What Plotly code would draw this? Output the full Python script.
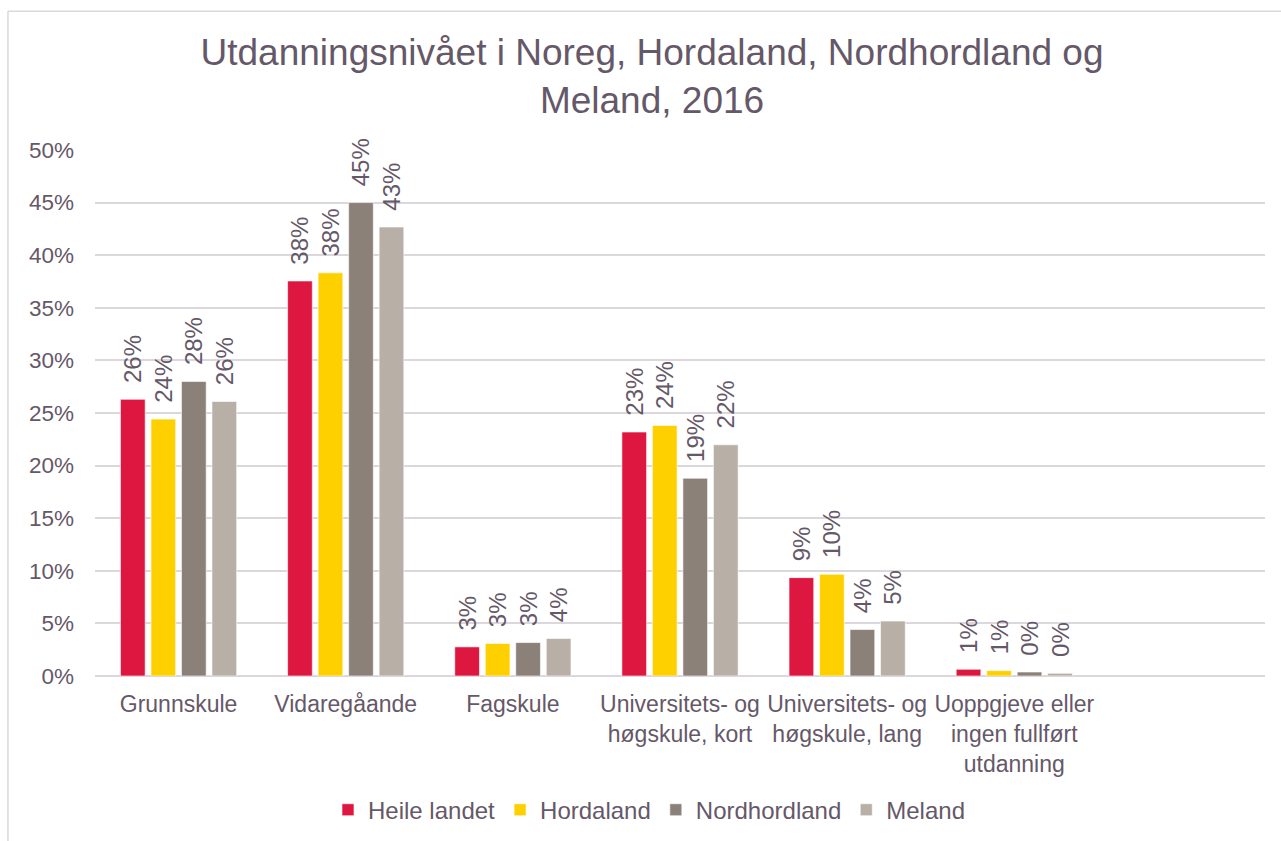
import plotly.graph_objects as go

categories = ["Grunnskule", "Vidaregåande", "Fagskule",
              "Universitets- og<br>høgskule, kort", "Universitets- og<br>høgskule, lang",
              "Uoppgjeve eller<br>ingen fullført<br>utdanning"]
series_names = ["Heile landet", "Hordaland", "Nordhordland", "Meland"]
heile_landet = [26.3, 37.55, 2.77, 23.19, 9.35, 0.64]
hordaland = [24.42, 38.32, 3.09, 23.82, 9.67, 0.51]
nordhordland = [28.0, 45.0, 3.18, 18.80, 4.42, 0.38]
meland = [26.09, 42.68, 3.56, 21.98, 5.22, 0.26]
colors = ["#DE1740", "#FFD000", "#8B8178", "#B8AFA6"]
y_ticks = [0, 5, 10, 15, 20, 25, 30, 35, 40, 45, 50]
y_ticktext = [f"{v}%" for v in y_ticks]

TXT = "#655868"
FONT = "Liberation Sans, Arial, sans-serif"
NB = "\u00a0"

fig = go.Figure()
for name, vals, col in zip(series_names, [heile_landet, hordaland, nordhordland, meland], colors):
    fig.add_trace(go.Bar(
        name=name, x=categories, y=vals,
        marker=dict(color=col, line=dict(color="rgba(255,255,255,0.6)", width=1)),
        text=[f"{NB}{NB}{round(v)}%" for v in vals],
        textposition="outside", textangle=-90,
        textfont=dict(family=FONT, size=24, color=TXT),
        constraintext="none", cliponaxis=False,
    ))

fig.update_layout(
    width=1281, height=841,
    paper_bgcolor="white", plot_bgcolor="white",
    margin=dict(l=95, r=16, t=150, b=165, autoexpand=False),
    barmode="group", bargap=0.27, bargroupgap=0.19,
    title=dict(text="Utdanningsnivået i Noreg, Hordaland, Nordhordland og<br>Meland, 2016",
               x=0.509, xanchor="center", y=0.9227, yanchor="middle",
               font=dict(family=FONT, size=37, color=TXT)),
    font=dict(family=FONT, size=23, color=TXT),
    legend=dict(orientation="h", x=0.4735, xanchor="center", y=-0.255, yanchor="middle",
                font=dict(family=FONT, size=24, color=TXT), itemwidth=30,
                traceorder="normal"),
    xaxis=dict(type="category", range=[-0.5, 6.5], showgrid=False, automargin=False,
               showline=False, ticks="", ticklabelstandoff=12,
               tickfont=dict(family=FONT, size=23, color=TXT)),
    yaxis=dict(range=[0, 50], tickmode="array", tickvals=y_ticks, ticktext=y_ticktext,
               automargin=False,
               showgrid=True, gridcolor="#DCD7DC", gridwidth=1.5, zeroline=True,
               zerolinecolor="#DCD7DC", zerolinewidth=1.5, ticks="", ticklabelstandoff=20,
               tickfont=dict(family=FONT, size=22.5, color=TXT)),
    shapes=[
        dict(type="line", xref="paper", yref="paper", x0=-0.0744, x1=-0.0744, y0=-0.4, y1=1.264,
             line=dict(color="#D9D9D9", width=1.5)),
        dict(type="line", xref="paper", yref="paper", x0=-0.0744, x1=1.02, y0=1.264, y1=1.264,
             line=dict(color="#D9D9D9", width=1.5)),
    ],
)

fig.write_html("out.html", config={"displayModeBar": False},
               post_script="document.body.style.margin='0';document.body.style.padding='0';")
